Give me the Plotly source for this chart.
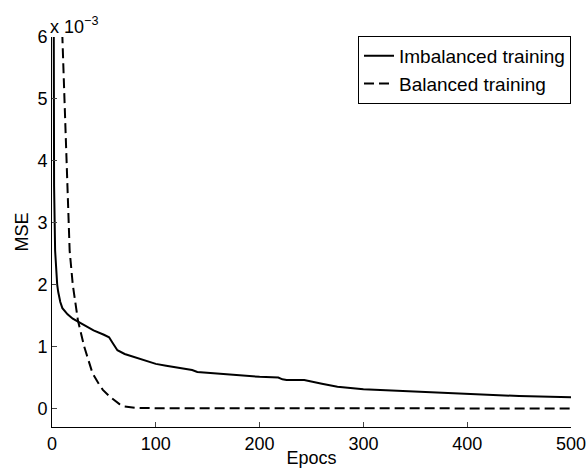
import plotly.graph_objects as go

# MSE per epoch (values in units of 1e-3)
imb_epochs = [1, 2, 3, 4, 5, 6, 8, 10, 15, 20, 25, 30, 40, 50, 55, 58, 63, 70, 79,
              90, 100, 110, 124, 135, 140, 160, 180, 200, 218, 222, 226, 243, 260,
              275, 300, 350, 400, 450, 500]
imb_mse = [12.0, 3.6, 2.55, 2.2, 2.0, 1.88, 1.72, 1.62, 1.52, 1.45, 1.40, 1.35, 1.26,
           1.19, 1.15, 1.07, 0.94, 0.88, 0.83, 0.77, 0.72, 0.69, 0.65, 0.62, 0.59,
           0.56, 0.53, 0.51, 0.50, 0.47, 0.46, 0.46, 0.40, 0.35, 0.31, 0.27, 0.23,
           0.20, 0.18]

bal_epochs = [9, 10, 12, 14, 15, 17, 20, 25, 31, 35, 39, 45, 49, 55, 60, 65, 70, 80,
              100, 500]
bal_mse = [8.0, 6.0, 5.0, 4.0, 3.5, 2.55, 2.0, 1.42, 1.0, 0.78, 0.57, 0.4, 0.3, 0.2,
           0.13, 0.07, 0.03, 0.01, 0.003, 0.0]

y_ticks = [0, 1, 2, 3, 4, 5, 6]
x_ticks = [0, 100, 200, 300, 400, 500]

scale = 1e-3
font = dict(family="Liberation Sans, Arial, sans-serif", size=18, color="black")

fig = go.Figure()
fig.add_trace(go.Scatter(x=imb_epochs, y=[v * scale for v in imb_mse],
                         mode="lines", name="Imbalanced training",
                         line=dict(color="black", width=2)))
fig.add_trace(go.Scatter(x=bal_epochs, y=[v * scale for v in bal_mse],
                         mode="lines", name="Balanced training",
                         line=dict(color="black", width=2, dash="10px,5px")))

fig.update_layout(
    width=588, height=468,
    margin=dict(l=52, r=17, t=37, b=41),
    paper_bgcolor="white", plot_bgcolor="white",
    font=font,
    showlegend=True,
    legend=dict(x=1.0, y=1.003, xanchor="right", yanchor="top",
                bgcolor="white", bordercolor="black", borderwidth=1,
                font=dict(font, size=19), tracegroupgap=0, itemwidth=30),
)
fig.update_xaxes(range=[0, 500], tickvals=x_ticks, ticks="inside", ticklen=5,
                 showline=True, linecolor="black", linewidth=1, showgrid=False,
                 zeroline=False, tickfont=font, automargin=False,
                 title=dict(text="Epocs", font=font, standoff=0))
fig.update_yaxes(range=[-0.3 * scale, 6 * scale],
                 tickvals=[t * scale for t in y_ticks],
                 ticktext=[str(t) for t in y_ticks],
                 ticks="inside", ticklen=5,
                 showline=True, linecolor="black", linewidth=1, showgrid=False,
                 zeroline=False, tickfont=font, automargin=False,
                 title=dict(text="MSE", font=font, standoff=4))
fig.add_annotation(text="x 10<sup>\u22123</sup>", xref="paper", yref="paper",
                   x=0, y=1, xanchor="left", yanchor="bottom", showarrow=False,
                   font=font, xshift=-4, yshift=-2)

# drop the page's default body margin so the figure sits at the window corner
fig.write_html("out.html", config={"displayModeBar": False},
               post_script="document.body.style.margin='0';")
